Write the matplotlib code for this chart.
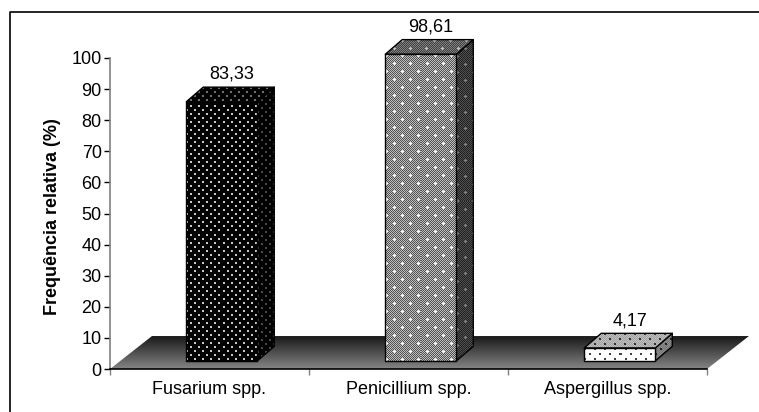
"""
Relative frequency of fungal genera, drawn as an old-style 3D bar chart.
"""

import numpy as np
import matplotlib
matplotlib.use('Agg')
import matplotlib.pyplot as plt
from matplotlib.lines import Line2D
from matplotlib.patches import Polygon

categories = ['Fusarium spp.', 'Penicillium spp.', 'Aspergillus spp.']
values = [83.33, 98.61, 4.17]
value_labels = ['83,33', '98,61', '4,17']
y_ticks = list(range(0, 101, 10))

plt.rcParams.update({
    'font.family': ['Liberation Sans', 'DejaVu Sans'],
    'font.size': 13,
})

W, H = 759, 412
DPI = 100

# Depth of the fake 3D look, in data units
BAR_WIDTH = 0.357
BAR_CENTER = 0.562
BAR_DX = 0.085
BAR_DY = 4.7
BAR_BASE = 2.6
FLOOR_DX = 0.211
FLOOR_DY = 10.6

# background, second background (checker), dot colour, period x, period y, dot size
STYLES = [
    {'front': ('#030303', None, '#c8c8c8', 8, 4, 2),
     'top':   ('#030303', None, '#707070', 8, 4, 2),
     'side':  ('#020202', None, '#4a4a4a', 8, 4, 2)},
    {'front': ('#505050', '#c0c0c0', '#ffffff', 16, 8, 3),
     'top':   ('#404040', '#808080', '#c0c0c0', 16, 8, 3),
     'side':  ('#202020', '#505050', '#808080', 16, 8, 3)},
    {'front': ('#ffffff', None, '#404040', 10, 5, 2),
     'top':   ('#a0a0a0', '#c0c0c0', '#303030', 10, 5, 2),
     'side':  ('#707070', '#909090', '#202020', 10, 5, 2)},
]


def draw_face(ax, verts, style, zorder):
    bg, bg2, dot, px, py, size = style
    verts = np.array(verts)
    corners = ax.transData.transform(verts)
    x0, y0 = corners.min(axis=0)
    x1, y1 = corners.max(axis=0)
    nx, ny = int(np.round(x1 - x0)), int(np.round(y1 - y0))

    yy, xx = np.mgrid[0:ny, 0:nx]
    img = np.full((ny, nx), matplotlib.colors.to_rgb(bg)[0])
    if bg2 is not None:
        img[(xx + yy) % 2 == 0] = matplotlib.colors.to_rgb(bg2)[0]
    odd = (yy // py) % 2 == 1
    cell_x = (xx + odd * (px // 2)) % px
    cell_y = yy % py
    mask = (cell_x < size) & (cell_y < size)
    if size == 3:
        # plus shaped dots on the coarse pattern
        mask &= (cell_x == 1) | (cell_y == 1)
    img[mask] = matplotlib.colors.to_rgb(dot)[0]

    extent = [verts[:, 0].min(), verts[:, 0].max(), verts[:, 1].min(), verts[:, 1].max()]
    im = ax.imshow(img, cmap='gray', vmin=0, vmax=1, extent=extent, origin='upper',
                   aspect='auto', interpolation='nearest', zorder=zorder)
    im.set_clip_box(ax.figure.bbox)
    im.set_clip_path(Polygon(verts, closed=True, transform=ax.transData))
    ax.add_patch(Polygon(verts, closed=True, fill=False, edgecolor='black', linewidth=1.0,
                         zorder=zorder + 0.1, clip_on=False, joinstyle='round'))


def draw_floor(ax, n):
    verts = np.array([(0, 0), (n, 0), (n + FLOOR_DX, FLOOR_DY), (FLOOR_DX, FLOOR_DY)])
    grad = np.linspace(0.10, 0.52, 64).reshape(-1, 1)
    im = ax.imshow(grad, cmap='gray', vmin=0, vmax=1, aspect='auto', origin='upper',
                   extent=[0, n + FLOOR_DX, 0, FLOOR_DY], zorder=1, interpolation='bilinear')
    im.set_clip_box(ax.figure.bbox)
    im.set_clip_path(Polygon(verts, closed=True, transform=ax.transData))


def draw_bar(ax, i, value, style):
    x0 = i + BAR_CENTER - BAR_WIDTH / 2
    x1 = x0 + BAR_WIDTH
    y0 = BAR_BASE
    y1 = BAR_BASE + value
    front = [(x0, y0), (x1, y0), (x1, y1), (x0, y1)]
    top = [(x0, y1), (x1, y1), (x1 + BAR_DX, y1 + BAR_DY), (x0 + BAR_DX, y1 + BAR_DY)]
    side = [(x1, y0), (x1 + BAR_DX, y0 + BAR_DY), (x1 + BAR_DX, y1 + BAR_DY), (x1, y1)]
    draw_face(ax, side, style['side'], 3)
    draw_face(ax, top, style['top'], 3.2)
    draw_face(ax, front, style['front'], 3.4)


def main():
    fig = plt.figure(figsize=(W / DPI, H / DPI), dpi=DPI, facecolor='white')
    ax = fig.add_axes([110 / W, (H - 369) / H, 597 / W, 311 / H])
    ax.set_facecolor('none')
    n = len(categories)
    ax.set_xlim(0, n)
    ax.set_ylim(0, 100)

    draw_floor(ax, n)
    for i, (value, label) in enumerate(zip(values, value_labels)):
        draw_bar(ax, i, value, STYLES[i])
        ax.annotate(label, (i + BAR_CENTER + BAR_DX / 2, BAR_BASE + value + BAR_DY),
                    xytext=(1, 3), textcoords='offset points',
                    ha='center', va='bottom', fontsize=13, annotation_clip=False, zorder=6)

    ax.set_xlim(0, n)
    ax.set_ylim(0, 100)

    ax.set_yticks(y_ticks)
    ax.set_xticks(range(n + 1))
    ax.set_xticklabels([''] * (n + 1))
    ax.set_xticks([i + 0.5 for i in range(n)], minor=True)
    ax.set_xticklabels(categories, minor=True)
    ax.tick_params(axis='x', which='minor', length=0, pad=9, labelsize=13)
    ax.tick_params(axis='x', which='major', length=4, width=1, color='#808080')
    ax.tick_params(axis='y', length=4, width=1, color='black', pad=2, labelsize=13)

    for side in ['top', 'right']:
        ax.spines[side].set_visible(False)
    ax.spines['left'].set_color('#808080')
    ax.spines['left'].set_linewidth(1.2)
    ax.spines['bottom'].set_color('black')
    ax.spines['bottom'].set_linewidth(1.2)
    ax.spines['bottom'].set_zorder(5)

    ax.set_ylabel('Frequência relativa (%)', fontsize=13, fontweight='bold')
    ax.yaxis.set_label_coords(-0.082, 0.489)

    # Outer chart frame, the picture is cropped at the right and bottom
    fig.add_artist(Line2D([10 / W, 10 / W, 1], [0, (H - 12) / H, (H - 12) / H],
                          color='black', linewidth=1.2))

    fig.savefig('out.png', dpi=DPI)
    plt.close(fig)


if __name__ == '__main__':
    main()
